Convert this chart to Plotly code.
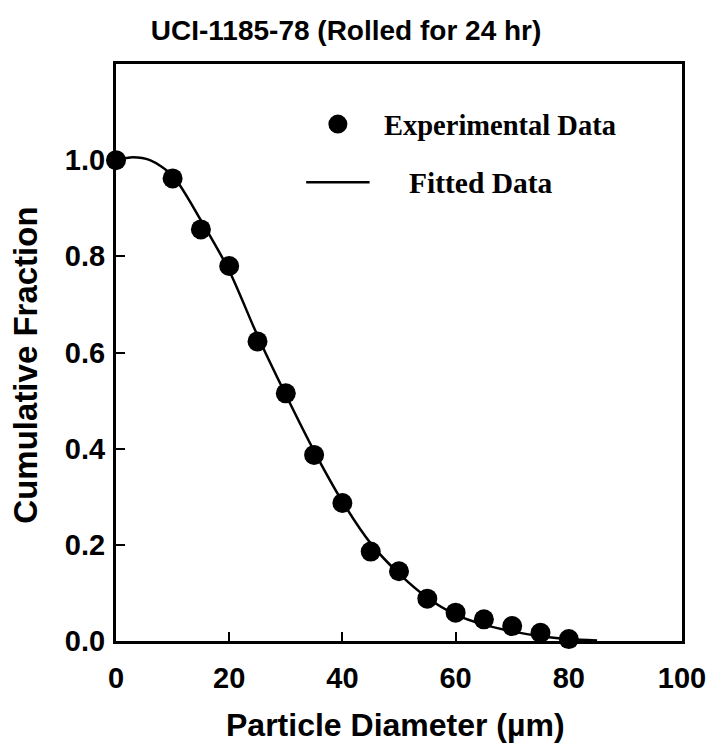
import plotly.graph_objects as go

exp_x = [0, 10, 15, 20, 25, 30, 35, 40, 45, 50, 55, 60, 65, 70, 75, 80]
exp_y = [1.0, 0.962, 0.856, 0.780, 0.623, 0.515, 0.387, 0.287, 0.186, 0.145, 0.088, 0.059, 0.045, 0.031, 0.017, 0.004]

# Fitted curve
fit_x = [0, 3, 6, 10, 15, 20, 25, 30, 35, 40, 45, 50, 55, 60, 65, 70, 75, 80, 85]
fit_y = [1.0, 1.006, 1.0, 0.968, 0.875, 0.770, 0.635, 0.512, 0.395, 0.290, 0.203, 0.140, 0.090, 0.055, 0.034, 0.020, 0.010, 0.004, 0.001]

x_ticks = [0, 20, 40, 60, 80, 100]
y_ticks = [0.0, 0.2, 0.4, 0.6, 0.8, 1.0]
y_tick_text = ["0.0", "0.2", "0.4", "0.6", "0.8", "1.0"]

title_text = "UCI-1185-78 (Rolled for 24 hr)"
x_title = "Particle Diameter (µm)"
y_title = "Cumulative Fraction"
legend_labels = ["Experimental Data", "Fitted Data"]

sans = "Liberation Sans, Arial, sans-serif"
serif = "Liberation Serif, Times New Roman, serif"

fig = go.Figure()
fig.add_trace(go.Scatter(x=fit_x, y=fit_y, mode="lines",
                         line=dict(color="black", width=2.5, shape="spline", smoothing=0.8),
                         showlegend=False, cliponaxis=False))
fig.add_trace(go.Scatter(x=exp_x, y=exp_y, mode="markers",
                         marker=dict(color="black", size=20),
                         showlegend=False, cliponaxis=False))

# legend replica
fig.add_trace(go.Scatter(x=[39.2], y=[1.075], mode="markers",
                         marker=dict(color="black", size=19), showlegend=False))
fig.add_trace(go.Scatter(x=[33.6, 44.8], y=[0.954, 0.954], mode="lines",
                         line=dict(color="black", width=2.5), showlegend=False))
fig.add_annotation(x=47.0, y=1.073, text="<b>" + legend_labels[0] + "</b>", showarrow=False,
                   xanchor="left", yanchor="middle", font=dict(family=serif, size=28.5, color="black"))
fig.add_annotation(x=51.4, y=0.952, text="<b>" + legend_labels[1] + "</b>", showarrow=False,
                   xanchor="left", yanchor="middle", font=dict(family=serif, size=29.5, color="black"))

# axis titles
fig.add_annotation(xref="paper", yref="paper", x=0.494, y=-0.1456, text="<b>" + x_title + "</b>",
                   showarrow=False, xanchor="center", yanchor="middle",
                   font=dict(family=sans, size=32, color="black"))
fig.add_annotation(xref="paper", yref="paper", x=-0.16, y=0.478, text="<b>" + y_title + "</b>",
                   showarrow=False, xanchor="center", yanchor="middle", textangle=-90,
                   font=dict(family=sans, size=33, color="black"))

tickfont = dict(family=sans, size=29, color="black", weight="bold")

fig.update_layout(
    width=718, height=750,
    margin=dict(l=116, r=30, t=64, b=109),
    plot_bgcolor="white", paper_bgcolor="white",
    title=dict(text="<b>" + title_text + "</b>", x=0.482, xanchor="center", y=0.96, yanchor="middle",
               font=dict(family=sans, size=28, color="black")),
    xaxis=dict(range=[0, 100], tickvals=x_ticks, ticks="inside", ticklen=9, tickwidth=2,
               tickcolor="black", showline=True, linecolor="black", linewidth=3, mirror=True,
               showgrid=False, zeroline=False, tickfont=tickfont, ticklabelstandoff=9),
    yaxis=dict(range=[0, 1.2], tickvals=y_ticks, ticktext=y_tick_text, ticks="inside", ticklen=9,
               tickwidth=2, tickcolor="black", showline=True, linecolor="black", linewidth=3,
               mirror=True, showgrid=False, zeroline=False, tickfont=tickfont, ticklabelstandoff=2),
)

fig.write_html("out.html")
